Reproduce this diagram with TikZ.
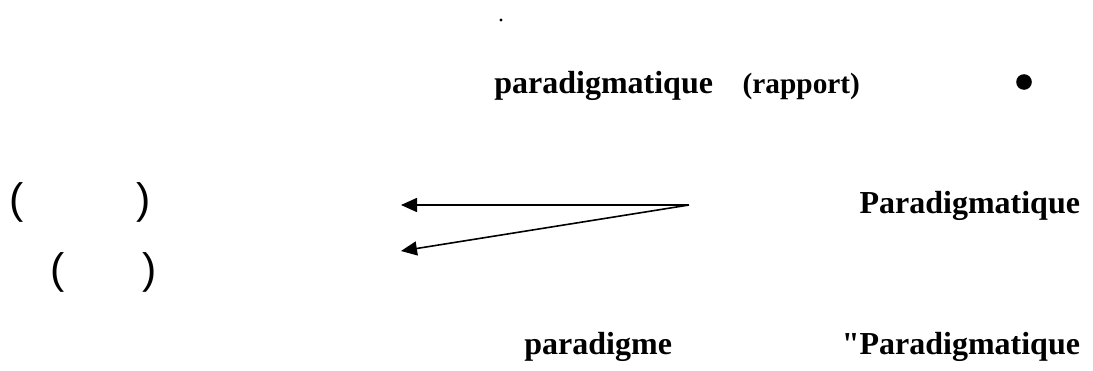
\documentclass[tikz,border=0pt]{standalone}
\usepackage{fontspec}
\setmainfont{Liberation Serif}
\newfontfamily\parenfont{Liberation Sans}
\usetikzlibrary{arrows.meta}

\begin{document}
\begin{tikzpicture}[x=0.75pt, y=-0.75pt,
                every node/.style={inner sep=0pt, outer sep=0pt},
                term/.style={anchor=base east, font=\fontsize{24}{28}\selectfont\bfseries},
                small/.style={anchor=base east, font=\fontsize{22}{26}\selectfont\bfseries},
                paren/.style={font=\parenfont\fontsize{32}{38}\selectfont},
                link/.style={-{Triangle[length=12pt, width=10.5pt]}, line width=1.2pt}]
                \useasboundingbox (0,0) rectangle (1093,371);
                
                % Top
                \fill (501,20) circle (1.6);
                \node[term] (para1) at (713,93) {paradigmatique};
                \node[small] (rapp) at (860,93) {(rapport)};
                \fill (1024,82) circle (7.8);
                
                % Middle
                \node[term] (para2) at (1080,213) {Paradigmatique};
                \coordinate (src) at (689,205);
                \coordinate (t1) at (401,205);
                \coordinate (t2) at (401,251);
                \node[paren] (lp1) at (17,202) {(};
                \node[paren] (rp1) at (144,202) {)};
                \node[paren] (lp2) at (58,272) {(};
                \node[paren] (rp2) at (150,272) {)};
                
                % Bottom
                \node[term] (para3) at (672,354) {paradigme};
                \node[term] (para4) at (1080,354) {\textquotedbl Paradigmatique};
                
                % Edges
                \draw[link] (src) -- (t1);
                \draw[link] (src) -- (t2);
            \end{tikzpicture}
\end{document}
